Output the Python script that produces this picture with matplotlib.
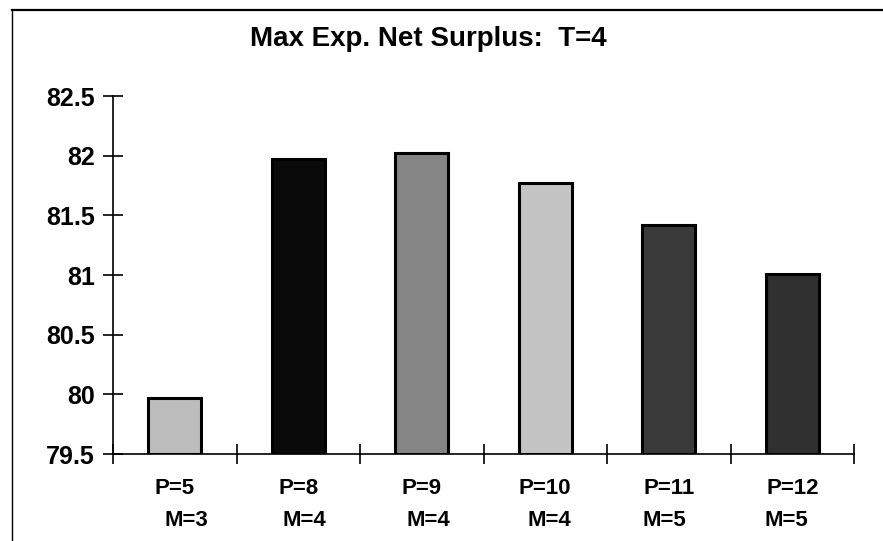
import matplotlib
matplotlib.use("Agg")
import matplotlib.pyplot as plt
from matplotlib.lines import Line2D

plt.rcParams['font.family'] = ['Liberation Sans', 'DejaVu Sans']

# Data
p_labels = ["P=5", "P=8", "P=9", "P=10", "P=11", "P=12"]
m_labels = ["M=3", "M=4", "M=4", "M=4", "M=5", "M=5"]
surplus = [79.97, 81.97, 82.02, 81.77, 81.42, 81.01]
y_ticks = [79.5, 80, 80.5, 81, 81.5, 82, 82.5]
y_tick_labels = ["79.5", "80", "80.5", "81", "81.5", "82", "82.5"]
title = "Max Exp. Net Surplus:  T=4"

# Styling
bar_colors = ["#bcbcbc", "#0a0a0a", "#858585", "#c4c4c4", "#3a3a3a", "#303030"]
m_offsets = [12, 6, 7, 4, -4, -6]   # horizontal shift (px) of the second label line

fig = plt.figure(figsize=(8.83, 5.41), dpi=100)
ax = fig.add_axes([113 / 883, 1 - 454 / 541, 741 / 883, (454 - 96) / 541])

x = list(range(len(surplus)))
ax.bar(x, [v - 79.5 for v in surplus], bottom=79.5, width=0.43,
       color=bar_colors, edgecolor="black", linewidth=2.2, zorder=2)

ax.set_xlim(-0.5, len(surplus) - 0.5)
ax.set_ylim(79.5, 82.5)

for s in ["top", "right"]:
    ax.spines[s].set_visible(False)
for s in ["left", "bottom"]:
    ax.spines[s].set_linewidth(1.2)

ax.set_yticks(y_ticks)
ax.set_yticklabels(y_tick_labels, fontsize=18, fontweight="bold")
ax.tick_params(axis="y", direction="inout", length=14, width=1.2, pad=6)

# category separators on the x axis
ax.set_xticks([i - 0.5 for i in range(len(surplus) + 1)])
ax.set_xticklabels([])
ax.tick_params(axis="x", direction="inout", length=14, width=1.2)

# two-line category labels
for i, (p, m, dx) in enumerate(zip(p_labels, m_labels, m_offsets)):
    ax.annotate(p, xy=(i, 79.5), xytext=(0, -34), textcoords="offset pixels",
                ha="center", va="center", fontsize=16, fontweight="bold",
                annotation_clip=False)
    ax.annotate(m, xy=(i, 79.5), xytext=(dx, -66), textcoords="offset pixels",
                ha="center", va="center", fontsize=16, fontweight="bold",
                annotation_clip=False)

fig.text(428 / 883, 1 - 39 / 541, title, ha="center", va="center",
         fontsize=20, fontweight="bold")

# outer frame lines (top and left)
fig.add_artist(Line2D([12 / 883, 1], [1 - 9.5 / 541, 1 - 9.5 / 541],
                      transform=fig.transFigure, color="black", linewidth=1.6))
fig.add_artist(Line2D([12 / 883, 12 / 883], [0, 1 - 9.5 / 541],
                      transform=fig.transFigure, color="black", linewidth=1.0))

fig.savefig("out.png", dpi=100)
